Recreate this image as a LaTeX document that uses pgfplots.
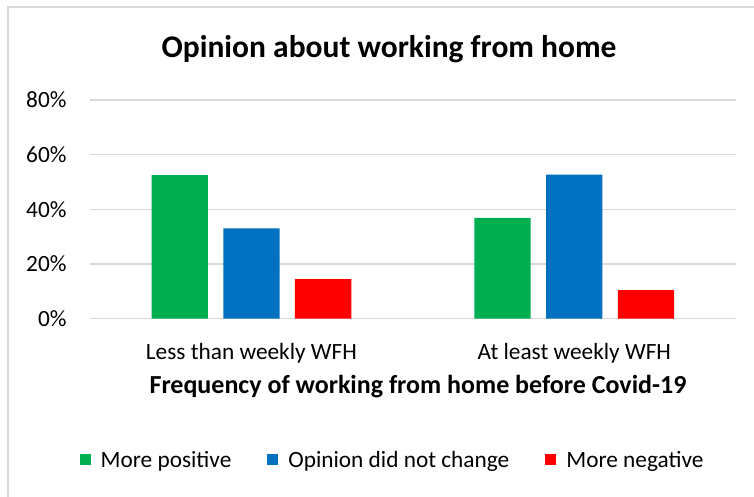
\documentclass[border=0pt]{standalone}
\usepackage{pgfplots}
\pgfplotsset{compat=1.18}
\usepackage{fontspec}
\setmainfont{Carlito}
\definecolor{cgreen}{HTML}{00B050}
\definecolor{cblue}{HTML}{0070C0}
\definecolor{cred}{HTML}{FF0000}
\definecolor{cgrid}{HTML}{D9D9D9}
\begin{document}
\begin{tikzpicture}[x=1pt,y=1pt]
\useasboundingbox (0,0) rectangle (754,496);
\draw[cgrid, line width=1.5pt] (8,-5) -- (8,489) -- (760,489);
\node[anchor=base, font=\fontsize{31.5}{36}\selectfont\bfseries] at (389,438) {Opinion about working from home};
\node[anchor=base, font=\fontsize{26}{30}\selectfont\bfseries] at (418,103) {Frequency of working from home before Covid-19};
\begin{axis}[
  at={(90pt,177.3pt)}, anchor=south west,
  scale only axis, width=645.7pt, height=218.7pt,
  xmin=-0.5, xmax=1.5, ymin=0, ymax=80,
  ybar=15.4pt, bar width=56.3pt,
  axis line style={draw=none},
  major tick length=0pt,
  ymajorgrids, grid style={cgrid, line width=1.3pt},
  xtick={0,1}, xticklabels={Less than weekly WFH, At least weekly WFH},
  ytick={0,20,40,60,80}, yticklabels={0\%,20\%,40\%,60\%,80\%},
  ticklabel style={font=\fontsize{23.3}{27}\selectfont, inner sep=0pt},
  yticklabel style={anchor=east, xshift=-23.3pt},
  xticklabel style={anchor=base, yshift=-41pt},
  clip=false,
  legend columns=3,
  legend style={at={(0.467,-0.646)}, anchor=center, draw=none, fill=none,
    font=\fontsize{23.3}{27}\selectfont,
    nodes={inner sep=0pt},
    /tikz/every odd column/.style={column sep=10pt},
    /tikz/every even column/.style={column sep=36pt}},
  legend image code/.code={\fill[#1] (0pt,-5.5pt) rectangle (11pt,5.5pt);},
]
\addplot[fill=cgreen, draw=none] coordinates {(0,52.5) (1,36.9)};
\addplot[fill=cblue, draw=none] coordinates {(0,33.0) (1,52.7)};
\addplot[fill=cred, draw=none] coordinates {(0,14.5) (1,10.5)};
\legend{More positive, Opinion did not change, More negative}
\end{axis}
\end{tikzpicture}
\end{document}
